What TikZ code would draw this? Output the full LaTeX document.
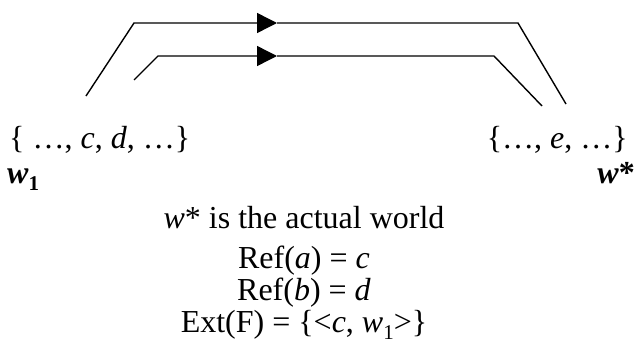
\documentclass[tikz,border=0pt]{standalone}
\usepackage{fontspec}
\setmainfont{Liberation Serif}
\usetikzlibrary{arrows.meta}
\newcommand{\mysub}[1]{\raisebox{-0.22em}{\fontsize{21}{21}\selectfont #1}}
\begin{document}
\begin{tikzpicture}[x=1pt,y=-1pt,
  wire/.style={line width=1.4pt},
  tipped/.style={wire,-{Triangle[length=20pt,width=20pt]}},
  txt/.style={inner sep=0pt,font=\fontsize{32}{32}\selectfont}]
\useasboundingbox (0,0) rectangle (635,356);
% outer path
\coordinate (o1) at (86,96);
\coordinate (o2) at (134,23);
\coordinate (om) at (277,23);
\coordinate (o3) at (518,23);
\coordinate (o4) at (566,104);
% inner path
\coordinate (i1) at (134,80);
\coordinate (i2) at (158,56);
\coordinate (im) at (277,56);
\coordinate (i3) at (494,56);
\coordinate (i4) at (542,106);
\draw[tipped] (o1) -- (o2) -- (om);
\draw[wire] (om) -- (o3) -- (o4);
\draw[tipped] (i1) -- (i2) -- (im);
\draw[wire] (im) -- (i3) -- (i4);
% texts
\node[txt,anchor=base west] (setL) at (9,148) {\{ …, \textit{c}, \textit{d}, …\}};
\node[txt,anchor=base east] (setR) at (628,148) {\{…, \textit{e}, …\}};
\node[txt,anchor=base west] (w1) at (7,183) {\textbf{\textit{w}\mysub{1}}};
\node[txt,anchor=base east] (ws) at (635,183) {\textbf{\textit{w}*}};
\node[txt,anchor=base] (l1) at (304,228) {\textit{w}* is the actual world};
\node[txt,anchor=base] (l2) at (304,268) {Ref(\textit{a}) = \textit{c}};
\node[txt,anchor=base] (l3) at (304,300) {Ref(\textit{b}) = \textit{d}};
\node[txt,anchor=base] (l4) at (304,332) {Ext(F) = \{<\textit{c}, \textit{w}\mysub{1}>\}};
\end{tikzpicture}
\end{document}
